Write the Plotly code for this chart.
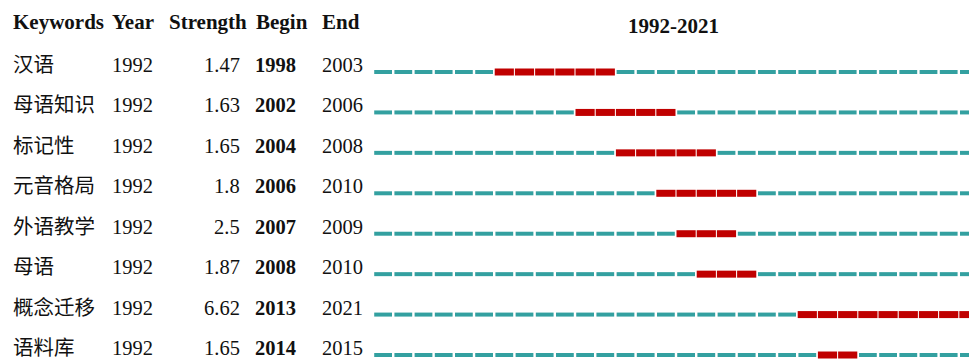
import plotly.graph_objects as go

# ---- data ----
keywords = ["汉语", "母语知识", "标记性", "元音格局", "外语教学", "母语", "概念迁移", "语料库"]
years = [1992, 1992, 1992, 1992, 1992, 1992, 1992, 1992]
strengths = ["1.47", "1.63", "1.65", "1.8", "2.5", "1.87", "6.62", "1.65"]
begins = [1998, 2002, 2004, 2006, 2007, 2008, 2013, 2014]
ends = [2003, 2006, 2008, 2010, 2009, 2010, 2021, 2015]
headers = ["Keywords", "Year", "Strength", "Begin", "End"]
span_start, span_end = 1992, 2021

W, H = 969, 359
PX_PER_YEAR = 20.2
X0_PX = 373
ROW0_PX = 72
ROW_STEP = 40.43

TEAL = "#33a0a0"
RED = "#c00000"
FONT = "Liberation Serif, Times New Roman, Noto Sans CJK SC, serif"
FS = 20.5
FS_HDR = 21

tx, ty, rx, ry = [], [], [], []
for i in range(len(keywords)):
    for yr in range(span_start, span_end + 1):
        if begins[i] <= yr <= ends[i]:
            g = 0.025
            rx += [yr + g, yr + 1 - g, None]
            ry += [i, i, None]
        else:
            g = 0.06
            tx += [yr + g, yr + 1 - g, None]
            ty += [i, i, None]

fig = go.Figure()
fig.add_trace(go.Scatter(x=tx, y=ty, mode="lines", line=dict(color=TEAL, width=4),
                         hoverinfo="skip", showlegend=False))
fig.add_trace(go.Scatter(x=rx, y=ry, mode="lines", line=dict(color=RED, width=7),
                         hoverinfo="skip", showlegend=False))

def px2paper(px):
    return px / W

def py2row(py):
    return (py - ROW0_PX) / ROW_STEP

ann = []
yshift = 7
for i in range(len(keywords)):
    ann.append(dict(x=px2paper(11), y=i, text=keywords[i], xanchor="left", yshift=yshift))
    ann.append(dict(x=px2paper(110), y=i, text=str(years[i]), xanchor="left", yshift=yshift))
    ann.append(dict(x=px2paper(242), y=i, text=strengths[i], xanchor="right", yshift=yshift))
    ann.append(dict(x=px2paper(253), y=i, text="<b>%d</b>" % begins[i], xanchor="left", yshift=yshift))
    ann.append(dict(x=px2paper(320), y=i, text=str(ends[i]), xanchor="left", yshift=yshift))

hdr_x = [11, 110, 167, 254, 320]
hy = py2row(22)
for h, xp in zip(headers, hdr_x):
    ann.append(dict(x=px2paper(xp), y=hy, text="<b>%s</b>" % h, xanchor="left",
                    font=dict(family=FONT, size=FS_HDR, color="#111111")))
ann.append(dict(x=px2paper(673), y=py2row(26), text="<b>%d-%d</b>" % (span_start, span_end),
                xanchor="center", font=dict(family=FONT, size=FS_HDR, color="#111111")))

for a in ann:
    a.update(xref="paper", yref="y", showarrow=False, yanchor="middle")
    if "font" not in a:
        a["font"] = dict(family=FONT, size=FS, color="#111111")

xr0 = span_start - X0_PX / PX_PER_YEAR
xr1 = span_start + (W - X0_PX) / PX_PER_YEAR
yr_top = py2row(0)
yr_bot = py2row(H)

fig.update_layout(
    width=W, height=H,
    margin=dict(l=0, r=0, t=0, b=0),
    paper_bgcolor="white", plot_bgcolor="white",
    xaxis=dict(range=[xr0, xr1], visible=False, fixedrange=True),
    yaxis=dict(range=[yr_bot, yr_top], visible=False, fixedrange=True),
    annotations=ann,
    showlegend=False,
)

fig.write_html("out.html")
